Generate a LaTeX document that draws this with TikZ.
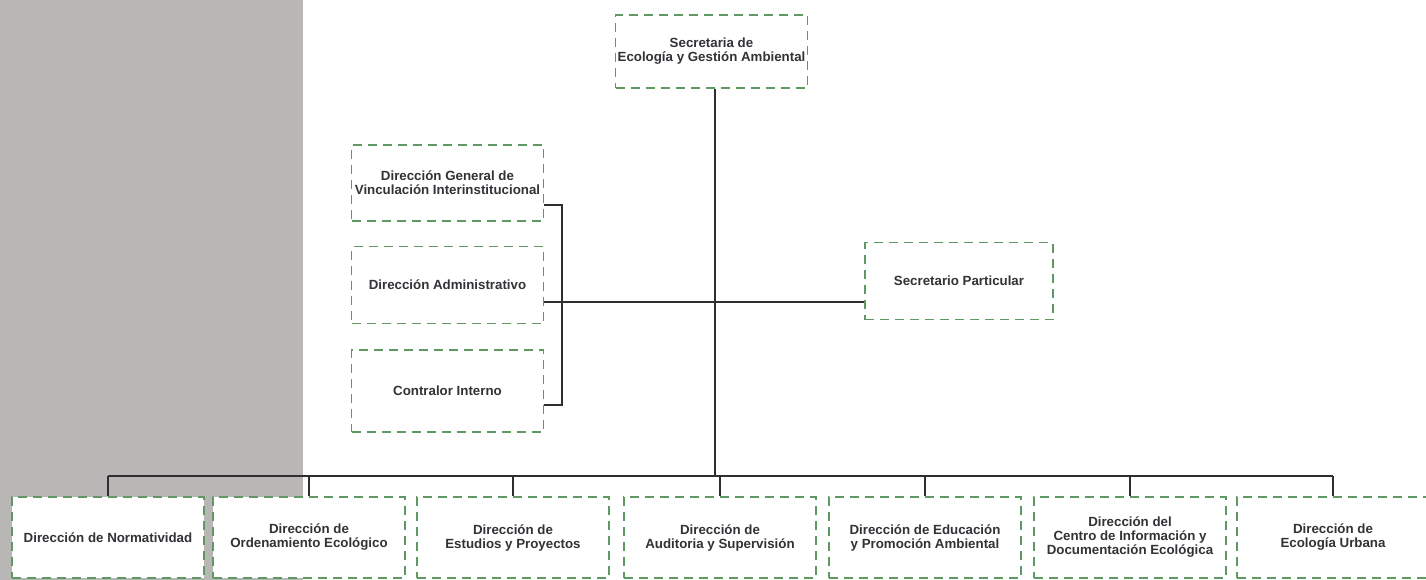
\documentclass[tikz,border=0pt]{standalone}
\usepackage{fontspec}
\setmainfont{Liberation Sans}
\definecolor{boxgreen}{RGB}{96,152,100}
\definecolor{panelgray}{RGB}{184,183,181}
\definecolor{inkgray}{RGB}{45,45,50}
\definecolor{textgray}{RGB}{50,50,55}
\begin{document}
\begin{tikzpicture}[x=1pt,y=-1pt,
    unit/.style={draw=boxgreen,dash pattern=on 9pt off 6pt,line width=1.3pt,fill=white,
      minimum width=192pt,minimum height=79pt,align=center,inner sep=1pt,
      text=textgray,font=\fontsize{13.3}{14}\selectfont\bfseries},
    link/.style={draw=inkgray,line width=1.6pt}]
      \useasboundingbox (0,0) rectangle (1426,580);
      \fill[panelgray] (0,0) rectangle (303,580);
      % top and staff units
      \draw
        (711.5,51.5) node[unit,minimum height=73pt] (sec){Secretaria de\\Ecología y Gestión Ambiental}
        (447.5,183) node[unit,minimum height=76pt] (vin){Dirección General de\\Vinculación Interinstitucional}
        (447.5,285) node[unit,minimum height=77pt] (adm){Dirección Administrativo}
        (447.5,391) node[unit,minimum height=82pt] (con){Contralor Interno}
        (959,281) node[unit,minimum width=188pt,minimum height=77pt] (par){Secretario Particular};
      % direcciones
      \draw
        (108,537.5) node[unit,minimum height=81pt] (d1){Dirección de Normatividad}
        (309,537.5) node[unit,minimum height=81pt] (d2){Dirección de\\Ordenamiento Ecológico}
        (513,537.5) node[unit,minimum height=81pt] (d3){Dirección de\\Estudios y Proyectos}
        (720,537.5) node[unit,minimum height=81pt] (d4){Dirección de\\Auditoria y Supervisión}
        (925,537.5) node[unit,minimum height=81pt] (d5){Dirección de Educación\\y Promoción Ambiental}
        (1130,537.5) node[unit,minimum height=81pt] (d6){Dirección del\\Centro de Información y\\Documentación Ecológica}
        (1333,537.5) node[unit,minimum height=81pt] (d7){Dirección de\\Ecología Urbana};
      \coordinate (b1) at (562,205);
      \coordinate (b3) at (562,405);
      \coordinate (bm) at (562,302);
      \coordinate (bus) at (715,476);
      \begin{scope}[link]
        \draw ([xshift=3.5pt]sec.south) -- (bus);
        \draw ([yshift=-22pt]vin.east) -- (b1) -- (b3) -- ([yshift=-14pt]con.east);
        \draw ([yshift=-17pt]adm.east) -- (bm) -- ([yshift=-21pt]par.west);
        \draw (d1.north |- bus) -- (d7.north |- bus);
        \foreach \d in {d1,d2,d3,d4,d5,d6,d7}
          \draw (\d.north |- bus) -- (\d.north);
      \end{scope}
    \end{tikzpicture}
\end{document}
